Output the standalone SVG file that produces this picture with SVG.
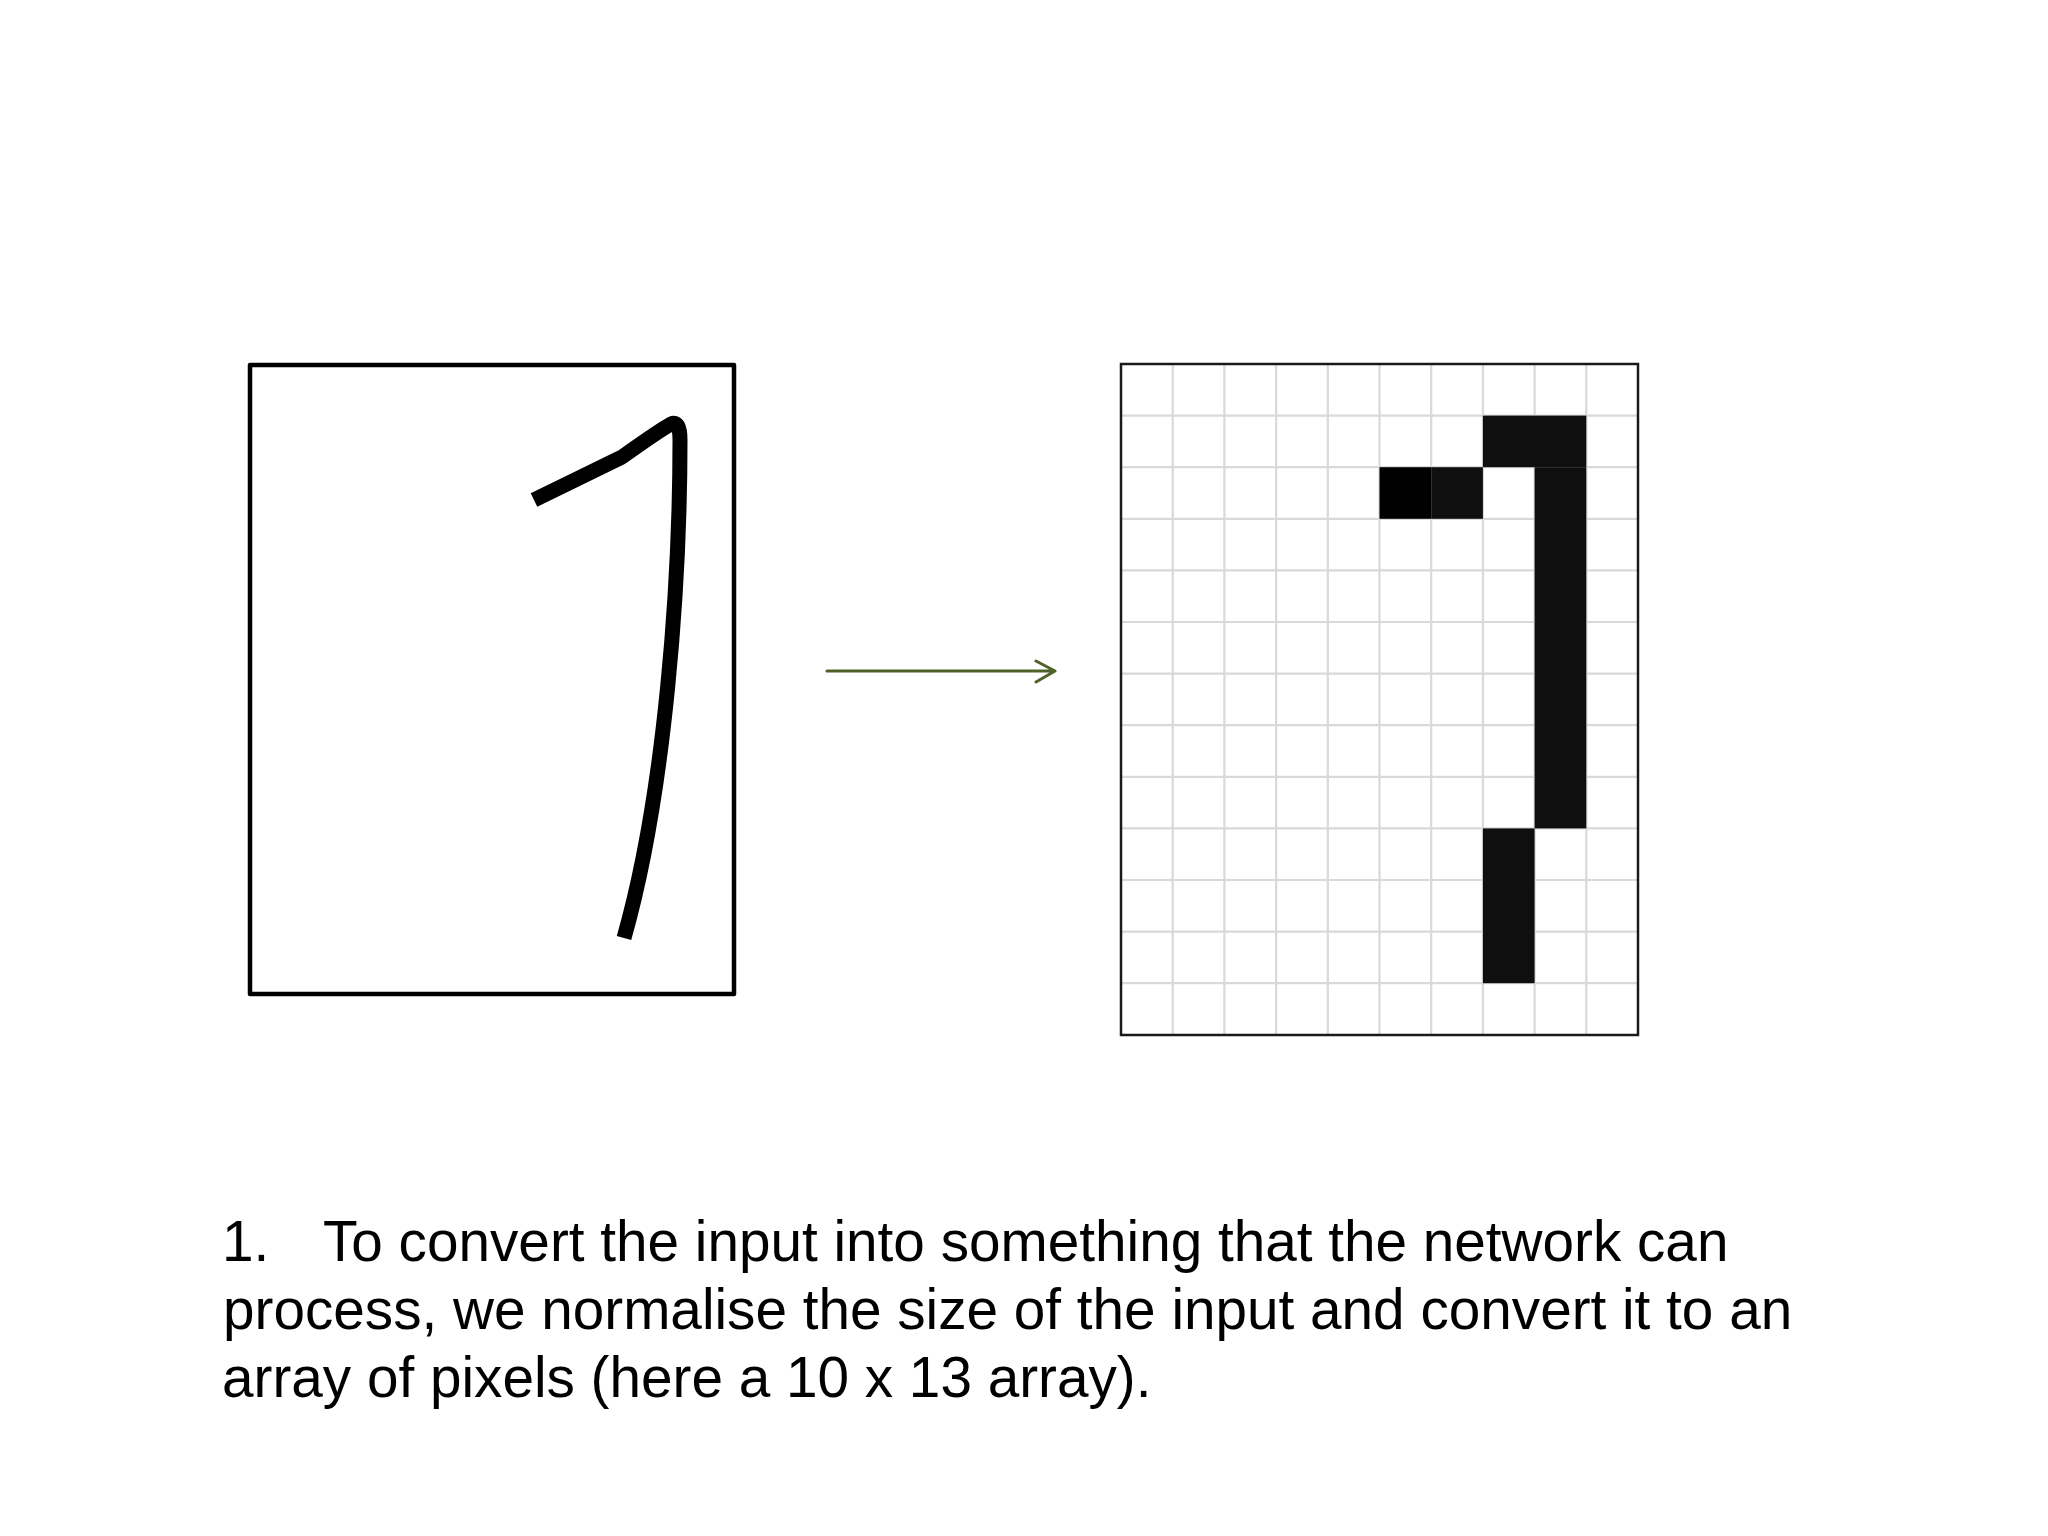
<svg xmlns="http://www.w3.org/2000/svg" width="2048" height="1536" viewBox="0 0 2048 1536">
<defs>
<style>
.frame{fill:none;stroke:#000;stroke-width:4.5;stroke-linejoin:round}
.grid line{stroke:#d9d9d9;stroke-width:2.2}
.cell{fill:#0f0f0f}
.stroke1{fill:none;stroke:#000;stroke-width:15;stroke-linecap:butt;stroke-linejoin:round}
.conn{fill:none;stroke:#4f6228;stroke-width:3;stroke-linecap:round;stroke-linejoin:round}
.txt{font-family:"Liberation Sans",Arial,sans-serif;font-size:56.7px;fill:#000}
</style>
</defs>
<rect width="2048" height="1536" fill="#fff"/>
<g id="input">
<rect class="frame" x="250" y="365" width="484" height="629"/>
<path class="stroke1" d="M534,500 L622,457 Q660,430 671,424 Q680,420 680,440 C680,580 666,790 624,938"/>
</g>
<g id="connectors">
<path class="conn" d="M827,671 H1054 M1036,661 L1055,671 L1036,682"/>
</g>
<g id="pixels">
<rect x="1121" y="364" width="517" height="671" fill="#fff"/>
<g class="grid">
<line x1="1172.7" y1="364" x2="1172.7" y2="1035"/>
<line x1="1224.4" y1="364" x2="1224.4" y2="1035"/>
<line x1="1276.1" y1="364" x2="1276.1" y2="1035"/>
<line x1="1327.8" y1="364" x2="1327.8" y2="1035"/>
<line x1="1379.5" y1="364" x2="1379.5" y2="1035"/>
<line x1="1431.2" y1="364" x2="1431.2" y2="1035"/>
<line x1="1482.9" y1="364" x2="1482.9" y2="1035"/>
<line x1="1534.6" y1="364" x2="1534.6" y2="1035"/>
<line x1="1586.3" y1="364" x2="1586.3" y2="1035"/>
<line x1="1121" y1="415.6" x2="1638" y2="415.6"/>
<line x1="1121" y1="467.2" x2="1638" y2="467.2"/>
<line x1="1121" y1="518.8" x2="1638" y2="518.8"/>
<line x1="1121" y1="570.4" x2="1638" y2="570.4"/>
<line x1="1121" y1="622" x2="1638" y2="622"/>
<line x1="1121" y1="673.6" x2="1638" y2="673.6"/>
<line x1="1121" y1="725.2" x2="1638" y2="725.2"/>
<line x1="1121" y1="776.8" x2="1638" y2="776.8"/>
<line x1="1121" y1="828.4" x2="1638" y2="828.4"/>
<line x1="1121" y1="880" x2="1638" y2="880"/>
<line x1="1121" y1="931.6" x2="1638" y2="931.6"/>
<line x1="1121" y1="983.2" x2="1638" y2="983.2"/>
</g>
<rect class="cell" x="1482.9" y="415.6" width="103.4" height="51.6"/>
<rect x="1379.5" y="467.2" width="51.7" height="51.6" fill="#000"/>
<rect class="cell" x="1431.2" y="467.2" width="51.7" height="51.6"/>
<rect class="cell" x="1534.6" y="467.2" width="51.7" height="361.2"/>
<rect class="cell" x="1482.9" y="828.4" width="51.7" height="154.8"/>
<rect x="1121" y="364" width="517" height="671" fill="none" stroke="#1a1a1a" stroke-width="2.5"/>
</g>
<g id="caption">
<text class="txt" x="222" y="1261">1.<tspan x="323">To convert the input into something that the network can</tspan></text>
<text class="txt" x="223" y="1329">process, we normalise the size of the input and convert it to an</text>
<text class="txt" x="222" y="1397">array of pixels (here a 10 x 13 array).</text>
</g>
</svg>
